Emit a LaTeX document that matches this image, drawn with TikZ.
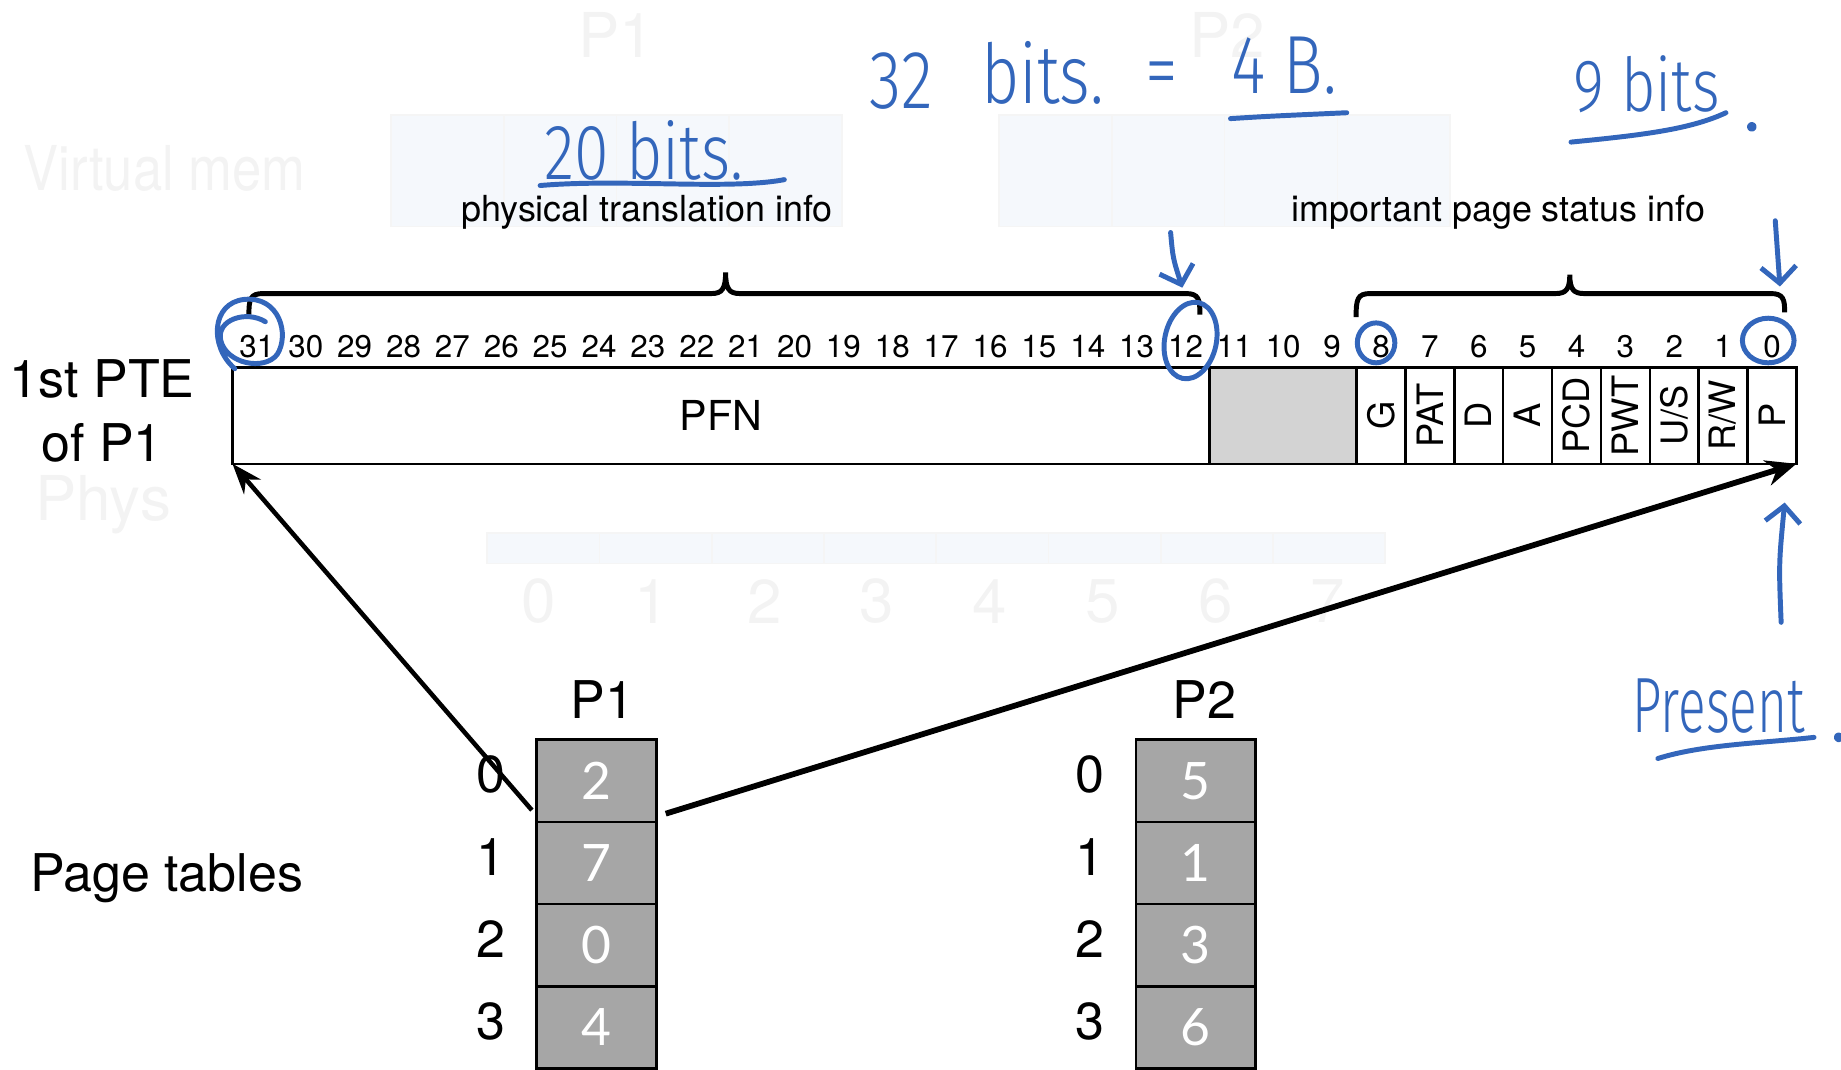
\documentclass[tikz,border=0pt]{standalone}
\usepackage{fontspec}
\setmainfont{TeX Gyre Heros}
\IfFontExistsTF{Fira Sans Light}{\newfontfamily\handfont{Fira Sans Light}}{\newfontfamily\handfont{Fira Sans}}
\newfontfamily\cellfont{Lato}
\usetikzlibrary{positioning,arrows.meta}
\definecolor{pen}{HTML}{3366BB}
\definecolor{cellgray}{HTML}{A6A6A6}
\definecolor{rsvgray}{HTML}{D3D3D3}
\definecolor{ghosttext}{HTML}{F3F3F3}
\definecolor{ghostfill}{HTML}{F5F8FC}
\begin{document}
\begin{tikzpicture}[
  bitnum/.style={font=\fontsize{7.6}{9}\selectfont, inner sep=0pt},
  field/.style={draw, line width=0.6pt, inner sep=0pt, outer sep=0pt, minimum height=0.82cm},
  flagcell/.style={draw, line width=0.6pt, inner sep=0pt, outer sep=0pt, rotate=90, minimum width=0.82cm, minimum height=0.41625cm, font=\fontsize{8.8}{10}\selectfont},
  note/.style={font=\fontsize{8.7}{10}\selectfont, inner sep=0pt},
  big/.style={font=\fontsize{12.6}{15.6}\selectfont, inner sep=0pt},
  cell/.style={draw, line width=0.6pt, fill=cellgray, text=white, minimum width=1.02cm, minimum height=0.70cm, inner sep=0pt, outer sep=0pt, font=\cellfont\fontsize{12.5}{15}\selectfont},
  ptr/.style={line width=1.1pt, -{Stealth[length=2.6mm,width=1.9mm]}},
  pen/.style={draw=pen, line width=1.2pt, line cap=round, line join=round},
  hand/.style={text=pen, inner sep=0pt, xscale=0.8, font=\handfont\fontsize{19}{22}\selectfont},
  brace/.style={line width=1.2pt},
  ghost/.style={text=ghosttext, inner sep=0pt, font=\fontsize{15}{18}\selectfont},
  ghostbox/.style={fill=ghostfill, draw=black!4, line width=0.4pt}
]
\useasboundingbox (0,0) rectangle (15.68,-9.11);

% faded layer underneath
\node[ghost] (gp1) at (5.25,-0.30) {P1};
\node[ghost] (gp2) at (10.45,-0.30) {P2};
\node[ghost, xscale=0.85] (gvirt) at (1.40,-1.43) {Virtual mem};
\node[ghost] (gphys) at (0.88,-4.30) {Phys};
\foreach \k in {0,...,3} {
  \draw[ghostbox] ({3.33+0.96*\k},-0.98) rectangle ++(0.96,-0.95);
  \draw[ghostbox] ({8.51+0.96*\k},-0.98) rectangle ++(0.96,-0.95);
}
\foreach \k in {0,...,7} {
  \draw[ghostbox] ({4.15+0.956*\k},-4.54) rectangle ++(0.956,-0.26);
  \node[ghost] (gn\k) at ({4.59+0.96*\k},-5.12) {\k};
}

% the page table entry
\foreach \b in {0,...,31}
  \node[bitnum] (b\b) at ({(198+(31.5-\b)*41.625)/100},-2.95) {\b};
\node[field, minimum width=8.32cm, font=\fontsize{10}{12}\selectfont] (pfn) at (6.14,-3.54) {PFN};
\node[field, fill=rsvgray, minimum width=1.25cm] (rsv) at (10.925,-3.54) {};
\foreach \f [count=\i from 0] in {P,R/W,U/S,PWT,PCD,A,D,PAT,G}
  \node[flagcell] (flag\i) at ({(198+(31.5-\i)*41.625)/100},-3.54) {\f};
\node[minimum width=13.32cm, minimum height=0.82cm, inner sep=0pt, outer sep=0pt] (pte) at (8.64,-3.54) {};

\draw[brace] (2.12,-2.68) .. controls (2.12,-2.55) and (2.13,-2.50) .. (2.24,-2.50) -- (6.06,-2.50)
  .. controls (6.15,-2.50) and (6.18,-2.46) .. (6.18,-2.32) .. controls (6.18,-2.46) and (6.21,-2.50) .. (6.30,-2.50)
  -- (10.10,-2.50) .. controls (10.21,-2.50) and (10.22,-2.55) .. (10.22,-2.68);
\draw[brace] (11.55,-2.70) .. controls (11.55,-2.55) and (11.56,-2.50) .. (11.67,-2.50) -- (13.25,-2.50)
  .. controls (13.34,-2.50) and (13.37,-2.46) .. (13.37,-2.34) .. controls (13.37,-2.46) and (13.40,-2.50) .. (13.49,-2.50)
  -- (15.08,-2.50) .. controls (15.19,-2.50) and (15.20,-2.55) .. (15.20,-2.66);
\node[note] (physinfo) at (5.51,-1.81) {physical translation info};
\node[note] (statinfo) at (12.76,-1.81) {important page status info};
\node[big, align=center] (ptelbl) at (0.87,-3.50) {1st PTE\\of P1};

% page tables
\node[big] (tbllbl) at (1.42,-7.48) {Page tables};
\node[big] (p1h) at (5.13,-5.96) {P1};
\node[big] (p2h) at (10.26,-5.96) {P2};
\foreach \v [count=\i from 0] in {2,7,0,4}
  \node[cell] (p1r\i) at (5.08,{-6.65-0.70*\i}) {\v};
\foreach \v [count=\i from 0] in {5,1,3,6}
  \node[cell] (p2r\i) at (10.185,{-6.65-0.70*\i}) {\v};
\foreach \i in {0,...,3} {
  \node[big, left=0.26cm of p1r\i, yshift=0.05cm] (p1i\i) {\i};
  \node[big, left=0.26cm of p2r\i, yshift=0.05cm] (p2i\i) {\i};
}

\draw[ptr] ([shift={(-0.04,0.10)}]p1r0.south west) -- (pte.south west);
\draw[ptr, line width=1.4pt, -{Stealth[length=2.6mm,width=2.2mm]}] ([shift={(0.08,0.07)}]p1r0.south east) -- (pte.south east);

% pen notes
\node[hand, anchor=base west] (twenty) at (4.63,-1.53) {20 bits.};
\draw[pen] (4.60,-1.58) .. controls (5.30,-1.52) and (6.20,-1.62) .. (6.68,-1.53);
\node[hand, anchor=base west, font=\handfont\fontsize{20}{22}\selectfont] (thirtytwo) at (7.40,-0.92) {32};
\node[hand, anchor=base west, font=\handfont\fontsize{20}{22}\selectfont] (bitsb) at (8.35,-0.88) {bits.};
\node[hand, anchor=base west, font=\handfont\fontsize{20}{22}\selectfont] (eq) at (9.75,-0.84) {=};
\node[hand, anchor=base west, font=\handfont\fontsize{20}{22}\selectfont] (fourb) at (10.48,-0.80) {4 B.};
\draw[pen] (10.48,-1.01) .. controls (10.80,-0.99) .. (11.47,-0.96);
\node[hand, anchor=base west, font=\handfont\fontsize{18}{22}\selectfont] (nine) at (13.40,-0.95) {9 bits};
\fill[pen] (14.92,-1.08) circle (0.02);
\draw[pen] (13.38,-1.21) .. controls (14.00,-1.15) and (14.40,-1.10) .. (14.70,-0.96);
\node[hand, anchor=base west, xscale=0.82, font=\handfont\fontsize{19}{22}\selectfont] (present) at (13.90,-6.24) {Present};
\draw[pen] (14.12,-6.46) .. controls (14.50,-6.34) and (15.00,-6.33) .. (15.45,-6.28);
\fill[pen] (15.66,-6.28) circle (0.02);

\draw[pen] (2.00,-3.14) .. controls (1.78,-2.95) and (1.80,-2.58) .. (2.08,-2.55)
  .. controls (2.38,-2.52) and (2.47,-2.85) .. (2.36,-3.02)
  .. controls (2.25,-3.16) and (1.93,-3.10) .. (1.88,-2.90)
  .. controls (1.84,-2.72) and (2.10,-2.64) .. (2.26,-2.74);
\draw[pen, rotate around={-12:(10.14,-2.90)}] (10.14,-2.90) ellipse (0.22 and 0.33);
\draw[pen] (11.72,-2.92) ellipse (0.16 and 0.17);
\draw[pen] (15.06,-2.90) ellipse (0.22 and 0.19);

\draw[pen, -{Straight Barb[length=1.4mm,width=3mm]}] (9.97,-1.98) .. controls (9.99,-2.20) .. (10.07,-2.45);
\draw[pen, -{Straight Barb[length=1.4mm,width=3mm]}] (15.12,-1.88) -- (15.16,-2.44);
\draw[pen, -{Straight Barb[length=1.4mm,width=3mm]}] (15.17,-5.30) .. controls (15.15,-4.80) .. (15.20,-4.28);
\end{tikzpicture}
\end{document}
